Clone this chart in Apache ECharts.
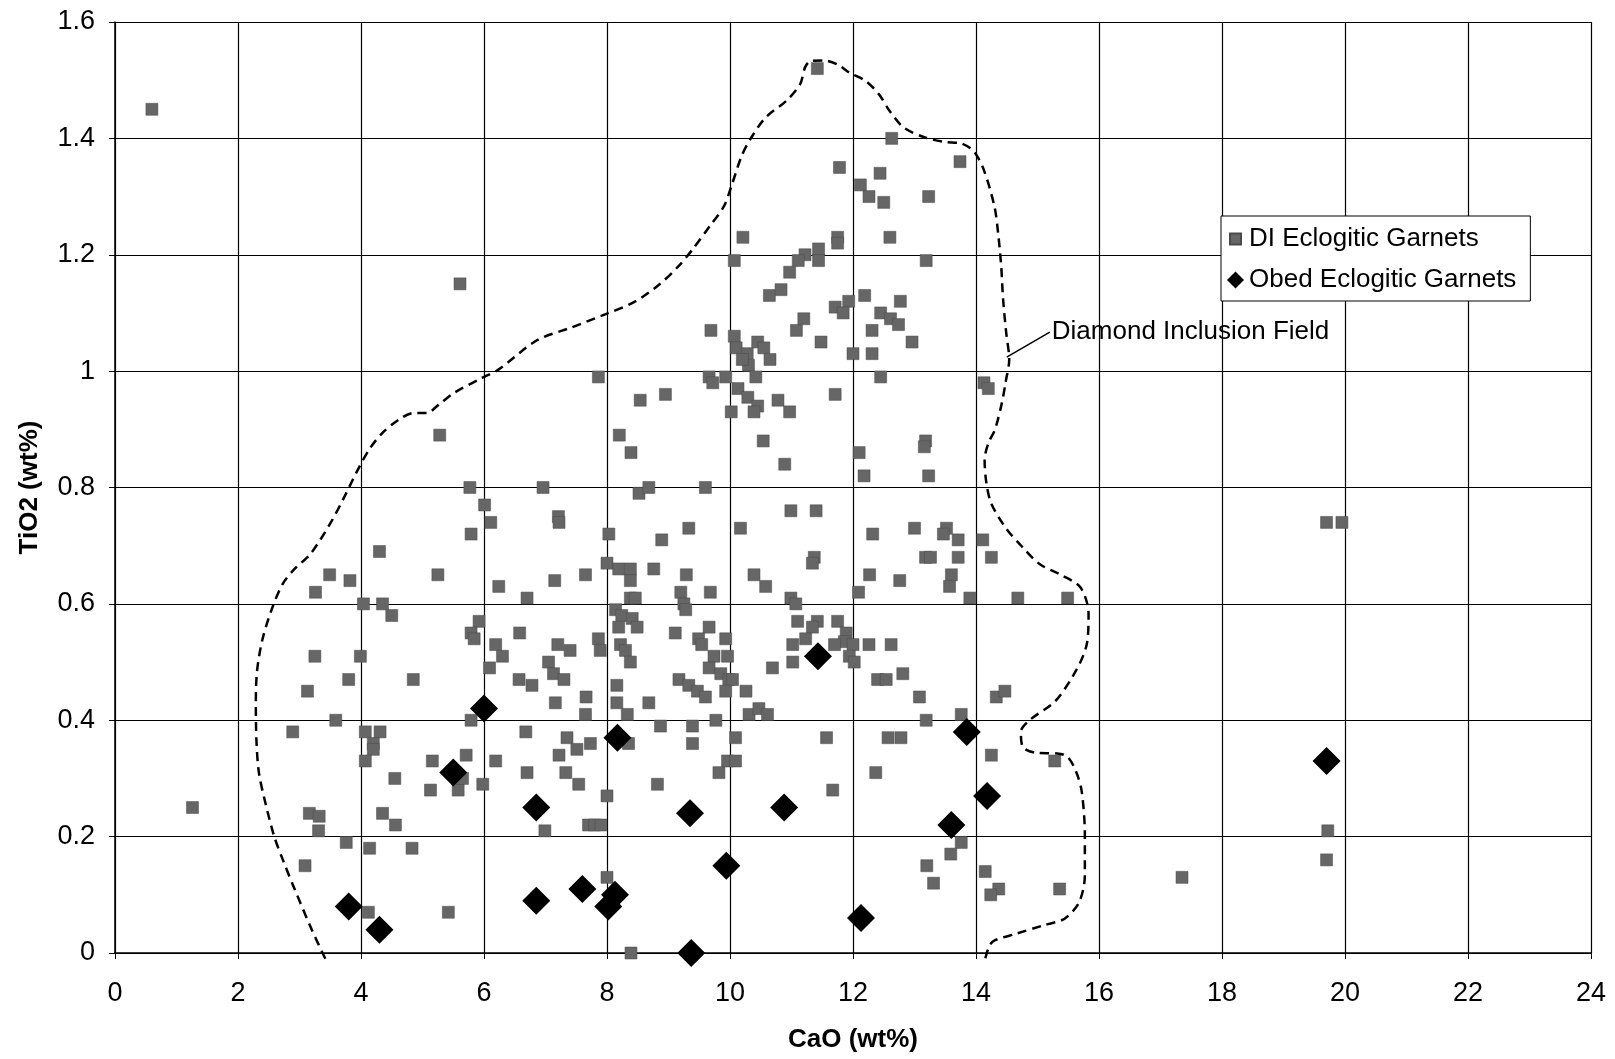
<!DOCTYPE html>
<html>
<head>
<meta charset="utf-8">
<script src="https://cdn.jsdelivr.net/npm/echarts@6/dist/echarts.min.js"></script>
<style>
  html, body { margin: 0; padding: 0; background: #fff; }
  #chart { width: 1615px; height: 1059px; }
</style>
</head>
<body>
<div id="chart"></div>
<script>
// DI eclogitic garnets (grey squares): CaO and TiO2 in wt%
const diCaO = [
  0.6, 1.26, 5.61, 11.42, 17.35, 19.7, 19.95, 19.72, 19.7,
  12.63, 13.74, 11.78, 12.44, 12.12, 12.26, 12.5, 13.23, 10.21, 11.75, 11.75, 12.6, 10.07,
  11.44, 11.44, 11.22, 11.11, 10.97, 13.19, 10.64, 10.83, 11.71, 11.93, 11.84, 12.19, 12.77,
  12.45, 12.61, 12.74, 12.96, 11.2, 11.08, 12.31, 11.48, 9.69, 10.07, 10.1, 10.28, 10.45,
  10.55, 10.65, 10.3, 10.42, 10.2, 12.0, 12.31, 9.66, 9.72, 9.93, 10.13, 10.29, 10.45, 10.39,
  10.78, 10.97, 10.02, 8.95, 8.54, 12.45, 11.71, 14.13, 14.2, 10.54, 10.89, 12.1, 13.18, 13.16,
  12.18, 13.23,
  7.86, 8.2, 8.39, 6.96, 7.21, 7.22, 5.28, 5.77, 6.01,
  5.79, 6.11, 4.3, 3.49, 3.82, 3.26, 5.25, 6.24, 7.15, 7.65, 6.7, 4.04, 4.35, 4.5, 5.92, 5.79,
  5.84, 6.58, 6.19, 6.3, 6.09, 7.2, 7.4, 7.86, 7.89, 7.05, 7.13, 7.3, 3.25, 3.99, 4.85, 3.8,
  3.13, 6.57, 6.78, 7.16, 7.66, 7.65, 3.59, 5.79, 2.89, 4.07, 4.31, 4.2, 4.2, 4.07, 6.68, 7.35,
  7.51, 7.73, 7.22, 5.71, 6.19, 5.16, 7.33, 7.54, 6.7, 4.55, 5.13, 5.58, 5.65, 5.98, 3.16, 3.32,
  4.35,
  8.52, 8.68, 9.6, 10.99, 11.4, 8.03, 9.33, 8.89, 10.17, 12.32, 13.0, 13.52, 13.47, 13.71, 14.11,
  8.0, 8.19, 8.38, 8.38, 8.76, 9.29, 11.37, 11.34, 10.39, 10.58, 13.18, 13.26, 13.71, 14.25, 12.27,
  12.76, 13.6, 13.57, 12.09, 13.9, 14.68, 9.68, 9.2, 9.25, 9.28, 8.38, 8.46, 8.14, 8.24, 8.41,
  8.49, 8.19, 10.99, 11.07, 11.1, 11.42, 11.75, 11.34, 11.23, 11.89, 11.86, 12.0, 11.94, 12.02,
  11.02, 11.7, 12.26, 12.62, 8.22, 8.3, 8.38, 9.11, 9.49, 9.54, 9.66, 9.93, 9.74, 9.66, 9.85,
  9.96, 9.98, 10.04, 9.93, 9.17, 9.33, 9.47, 9.6, 10.69, 11.02, 12.4, 12.54, 12.81, 13.08, 14.33,
  14.47, 8.16, 8.16, 8.68, 8.33, 10.26, 10.31, 10.47, 10.61, 9.77, 8.87, 9.39, 13.19, 13.76, 10.09,
  11.57, 9.39, 12.57, 12.78, 14.25, 9.96, 9.82, 10.09, 12.37, 8.82, 11.67, 8.35, 8.0,
  7.7, 7.8, 7.9, 6.99, 13.76, 13.59, 13.2, 13.31, 14.15, 14.37, 14.24, 15.36, 8.0, 8.39, 15.28, 15.49,
  3.31, 4.56, 3.76, 4.14, 4.83, 3.09, 4.12, 5.42
];
const diTiO2 = [
  1.45, 0.25, 1.15, 1.52, 0.13, 0.74, 0.74, 0.21, 0.16,
  1.40, 1.36, 1.35, 1.34, 1.32, 1.30, 1.29, 1.30, 1.23, 1.23, 1.22, 1.23, 1.19,
  1.21, 1.19, 1.20, 1.19, 1.17, 1.19, 1.13, 1.14, 1.11, 1.12, 1.10, 1.13, 1.12,
  1.10, 1.09, 1.08, 1.05, 1.09, 1.07, 1.07, 1.05, 1.07, 1.06, 1.04, 1.03, 1.05,
  1.04, 1.02, 1.01, 0.99, 1.02, 1.03, 1.03, 0.99, 0.98, 0.99, 0.97, 0.955, 0.94, 0.93,
  0.95, 0.93, 0.93, 0.96, 0.95, 0.99, 0.96, 0.98, 0.97, 0.88, 0.84, 0.86, 0.88, 0.87,
  0.82, 0.82,
  0.99, 0.89, 0.86, 0.80, 0.75, 0.74, 0.89, 0.80, 0.77,
  0.72, 0.74, 0.69, 0.65, 0.64, 0.62, 0.65, 0.63, 0.64, 0.65, 0.61, 0.60, 0.60, 0.58, 0.57, 0.55,
  0.54, 0.55, 0.53, 0.51, 0.49, 0.53, 0.52, 0.54, 0.52, 0.50, 0.48, 0.47, 0.51, 0.51, 0.47, 0.47,
  0.45, 0.47, 0.46, 0.43, 0.44, 0.41, 0.40, 0.40, 0.38, 0.38, 0.38, 0.36, 0.35, 0.33, 0.38, 0.37,
  0.35, 0.36, 0.34, 0.34, 0.33, 0.33, 0.31, 0.29, 0.31, 0.30, 0.28, 0.28, 0.30, 0.29, 0.24, 0.235,
  0.24,
  0.79, 0.80, 0.80, 0.76, 0.76, 0.72, 0.73, 0.71, 0.73, 0.72, 0.73, 0.73, 0.72, 0.71, 0.71,
  0.67, 0.66, 0.66, 0.64, 0.66, 0.65, 0.68, 0.67, 0.65, 0.63, 0.68, 0.68, 0.68, 0.68, 0.65,
  0.64, 0.65, 0.63, 0.62, 0.61, 0.61, 0.62, 0.62, 0.60, 0.59, 0.61, 0.61, 0.59, 0.58, 0.575,
  0.56, 0.56, 0.61, 0.60, 0.57, 0.57, 0.57, 0.56, 0.54, 0.55, 0.535, 0.53, 0.51, 0.50,
  0.53, 0.53, 0.53, 0.53, 0.53, 0.52, 0.50, 0.55, 0.54, 0.53, 0.56, 0.54, 0.51, 0.49, 0.48,
  0.51, 0.47, 0.47, 0.45, 0.47, 0.46, 0.45, 0.44, 0.49, 0.50, 0.47, 0.47, 0.48, 0.44, 0.44,
  0.45, 0.46, 0.43, 0.43, 0.41, 0.45, 0.41, 0.42, 0.41, 0.40, 0.39, 0.39, 0.40, 0.41, 0.37,
  0.37, 0.36, 0.37, 0.37, 0.34, 0.33, 0.31, 0.33, 0.31, 0.29, 0.28, 0.36, 0.27,
  0.22, 0.22, 0.22, 0.21, 0.19, 0.17, 0.15, 0.12, 0.14, 0.11, 0.10, 0.11, 0.13, 0.0, 0.33, 0.61,
  0.21, 0.22, 0.19, 0.18, 0.18, 0.15, 0.07, 0.07
];

// Obed eclogitic garnets (black diamonds)
const obedCaO = [3.8, 4.3, 5.5, 6.0, 6.85, 6.85, 7.6, 8.02, 8.13, 8.17, 9.35, 9.37, 9.94, 10.88, 11.43, 12.13, 13.6, 13.85, 14.18, 19.7];
const obedTiO2 = [0.08, 0.04, 0.31, 0.42, 0.25, 0.09, 0.11, 0.08, 0.10, 0.37, 0.24, 0.0, 0.15, 0.25, 0.51, 0.06, 0.22, 0.38, 0.27, 0.33];

// Diamond inclusion field outline (dashed)
const fieldCaO = [
  3.42, 3.2, 2.92, 2.73, 2.59, 2.45, 2.34, 2.3, 2.29, 2.31, 2.4, 2.56, 2.73, 2.92, 3.18, 3.51,
  3.73, 3.96, 4.15, 4.35, 4.62, 4.85, 5.07, 5.26, 5.52, 5.96, 6.24, 6.86, 7.42, 7.98, 8.43, 8.83,
  9.16, 9.39, 9.67, 9.9, 10.02, 10.19, 10.35, 10.58, 10.92, 11.14, 11.22, 11.31, 11.53, 11.75,
  11.94, 12.2, 12.42, 12.59, 12.82, 13.16, 13.49, 13.77, 13.97, 14.13, 14.3, 14.36, 14.41, 14.44,
  14.49, 14.54, 14.48, 14.42, 14.31, 14.2, 14.14, 14.17, 14.25, 14.48, 14.76, 15.04, 15.38, 15.7,
  15.83, 15.8, 15.63, 15.29, 14.87, 14.73, 14.76, 14.98, 15.32, 15.49, 15.63, 15.72, 15.77, 15.77,
  15.68, 15.44, 15.11, 14.65, 14.31, 14.22, 14.15
];
const fieldTiO2 = [
  -0.01, 0.04, 0.11, 0.16, 0.2, 0.256, 0.31, 0.365, 0.43, 0.485, 0.54, 0.594, 0.635, 0.66, 0.686, 0.74,
  0.784, 0.833, 0.868, 0.894, 0.917, 0.928, 0.928, 0.942, 0.963, 0.988, 1.003, 1.053, 1.075, 1.098, 1.118, 1.147,
  1.18, 1.209, 1.249, 1.283, 1.317, 1.37, 1.402, 1.436, 1.465, 1.493, 1.522, 1.533, 1.534, 1.527,
  1.513, 1.499, 1.476, 1.448, 1.419, 1.402, 1.394, 1.391, 1.377, 1.345, 1.283, 1.237, 1.18, 1.124,
  1.067, 1.02, 0.98, 0.945, 0.9, 0.876, 0.847, 0.807, 0.772, 0.731, 0.697, 0.668, 0.65, 0.628,
  0.583, 0.53, 0.486, 0.433, 0.40, 0.38, 0.354, 0.344, 0.343, 0.337, 0.311, 0.277, 0.203, 0.134,
  0.088, 0.059, 0.048, 0.033, 0.022, 0.013, -0.01
];

// leader line to the field label
const leaderCaO = [14.5, 15.2];
const leaderTiO2 = [1.024, 1.067];

const pairs = (xs, ys) => xs.map((x, i) => [x, ys[i]]);

const font = 'Liberation Sans, Arial, sans-serif';
const chart = echarts.init(document.getElementById('chart'));
chart.setOption({
  animation: false,
  backgroundColor: '#fff',
  textStyle: { fontFamily: font, color: '#000' },
  grid: { left: 115, right: 24, top: 22, bottom: 106 },
  legend: {
    orient: 'vertical',
    left: 1221,
    top: 216,
    padding: [9, 14, 7, 5],
    itemGap: 13,
    itemWidth: 17,
    itemHeight: 17,
    backgroundColor: '#fff',
    borderColor: '#000',
    borderWidth: 1,
    borderRadius: 0,
    textStyle: { fontSize: 26, fontFamily: font, color: '#000', lineHeight: 28 },
    data: [
      { name: 'DI Eclogitic Garnets', icon: 'path://M0,0M17,17M3,3h11v11h-11z' },
      { name: 'Obed Eclogitic Garnets', icon: 'diamond' }
    ]
  },
  xAxis: {
    type: 'value',
    min: 0, max: 24, interval: 2,
    name: 'CaO (wt%)',
    nameLocation: 'middle',
    nameGap: 74,
    nameTextStyle: { fontSize: 26, fontWeight: 'bold', color: '#000', fontFamily: font },
    axisLine: { lineStyle: { color: '#000', width: 1.5 } },
    axisTick: { show: true, length: 6, lineStyle: { color: '#000' } },
    axisLabel: { fontSize: 27, color: '#000', margin: 27, fontFamily: font },
    splitLine: { show: true, lineStyle: { color: '#000', width: 1.2 } }
  },
  yAxis: {
    type: 'value',
    min: 0, max: 1.6, interval: 0.2,
    name: 'TiO2 (wt%)',
    nameLocation: 'middle',
    nameGap: 72,
    nameTextStyle: { fontSize: 26, fontWeight: 'bold', color: '#000', fontFamily: font },
    axisLine: { show: true, lineStyle: { color: '#000', width: 1.5 } },
    axisTick: { show: true, length: 6, lineStyle: { color: '#000' } },
    axisLabel: { fontSize: 27, color: '#000', margin: 20, fontFamily: font },
    splitLine: { show: true, lineStyle: { color: '#000', width: 1.2 } }
  },
  series: [
    {
      name: 'DI Eclogitic Garnets',
      type: 'scatter',
      symbol: 'rect',
      symbolSize: 12,
      itemStyle: { color: '#666', borderColor: '#4a4a4a', borderWidth: 0.5, opacity: 1 },
      data: pairs(diCaO, diTiO2),
      z: 3
    },
    {
      name: 'field',
      type: 'line',
      data: pairs(fieldCaO, fieldTiO2),
      showSymbol: false,
      symbol: 'none',
      smooth: 0.3,
      clip: false,
      lineStyle: { color: '#000', width: 2.5, type: [9, 6] },
      z: 4
    },
    {
      name: 'leader',
      type: 'line',
      data: pairs(leaderCaO, leaderTiO2),
      symbol: 'none',
      lineStyle: { color: '#000', width: 1.5 },
      endLabel: {
        show: true,
        formatter: 'Diamond Inclusion Field',
        fontSize: 26,
        fontFamily: font,
        color: '#000',
        distance: 2
      },
      z: 4
    },
    {
      name: 'Obed Eclogitic Garnets',
      type: 'scatter',
      symbol: 'diamond',
      symbolSize: 28,
      itemStyle: { color: '#000', opacity: 1 },
      data: pairs(obedCaO, obedTiO2),
      z: 5
    }
  ]
});
</script>
</body>
</html>
